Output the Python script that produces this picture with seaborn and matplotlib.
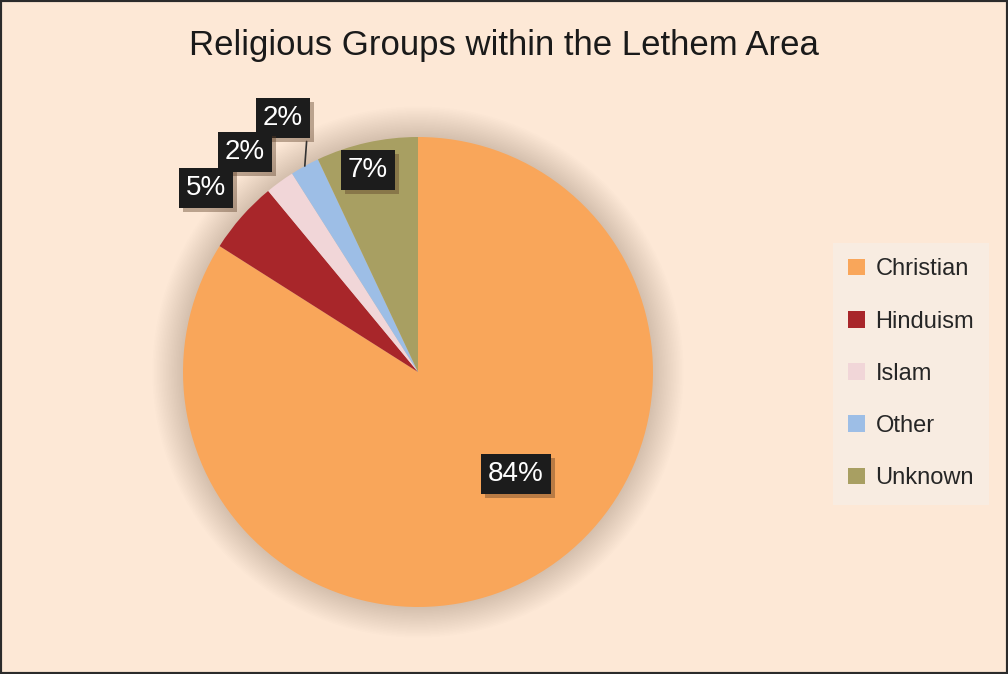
import matplotlib
matplotlib.use("Agg")
import matplotlib.pyplot as plt
import matplotlib.patheffects as pe
from matplotlib.patches import Rectangle, Circle
import seaborn as sns
import numpy as np

categories = ["Christian", "Hinduism", "Islam", "Other", "Unknown"]
values = [84, 5, 2, 2, 7]
pct_labels = ["84%", "5%", "2%", "2%", "7%"]
colors = ["#F9A65A", "#A8262A", "#F1D6D8", "#9DBEE6", "#A89F62"]
title = "Religious Groups within the Lethem Area"

sns.set_style("white")
plt.rcParams["font.family"] = ["Liberation Sans", "DejaVu Sans"]
palette = sns.color_palette(colors)

W, H = 1008, 674
fig = plt.figure(figsize=(W / 100, H / 100), dpi=100)
bg = "#FDE8D6"
fig.patch.set_facecolor(bg)

cx, cy, r = 418, 372, 235
ax = fig.add_axes([(cx - r) / W, (H - cy - r) / H, 2 * r / W, 2 * r / H])
ax.set_facecolor("none")
ax.axis("off")

# soft grey halo behind pie
for k in range(20):
    ax.add_patch(Circle((0, 0), 1.0 + 0.0065 * (k + 1), color="#8A7E70",
                        alpha=0.016, lw=0, zorder=0, clip_on=False))

wedges, _ = ax.pie(values, colors=palette, startangle=90, counterclock=False,
                   radius=1.0, wedgeprops=dict(linewidth=0, zorder=2))
ax.set_xlim(-1, 1)
ax.set_ylim(-1, 1)
ax.set_aspect("equal")

# label positions (layout, in pie radius units)
label_pos = [(0.417, -0.434), (-0.902, 0.783), (-0.736, 0.936), (-0.574, 1.081), (-0.213, 0.860)]
order = [4, 3, 2, 1, 0]
cum = np.cumsum([0] + values)
total = sum(values)
for i in order:
    x, y = label_pos[i]
    t = ax.text(x, y, pct_labels[i], ha="center", va="center", color="white",
                fontsize=20, zorder=10 + (5 - i),
                bbox=dict(boxstyle="square,pad=0.25", fc="#1C1C1C", ec="none"))
    t.get_bbox_patch().set_path_effects([
        pe.SimplePatchShadow(offset=(3, -3), shadow_rgbFace="#5a3c24", alpha=0.4),
        pe.Normal()])
    if i == 3:
        mid = (cum[i] + values[i] / 2) / total
        ang = np.deg2rad(90 - mid * 360)
        ax.annotate("", xy=(np.cos(ang), np.sin(ang)), xytext=(x + 0.1, y - 0.1),
                    arrowprops=dict(arrowstyle="-", color="#333333", lw=1.2,
                                    shrinkA=0, shrinkB=0), zorder=9)

fig.text(0.5, 1 - 45 / H, title, ha="center", va="center", fontsize=25, color="#1A1A1A")

leg = fig.legend(wedges, categories, loc="upper left",
                 bbox_to_anchor=(833 / W, 1 - 243 / H), frameon=True,
                 fontsize=17, handlelength=0.7, handleheight=0.7,
                 labelspacing=1.28, handletextpad=0.45, borderpad=0.65,
                 borderaxespad=0, fancybox=False)
leg.get_frame().set_facecolor("#F8ECE1")
leg.get_frame().set_edgecolor("none")
leg.get_frame().set_alpha(1)

fig.patches.append(Rectangle((0, 0), 1, 1, transform=fig.transFigure, fill=False,
                             lw=3, ec="#2B2B2B", zorder=100))

fig.savefig("out.png", dpi=100, facecolor=bg)
